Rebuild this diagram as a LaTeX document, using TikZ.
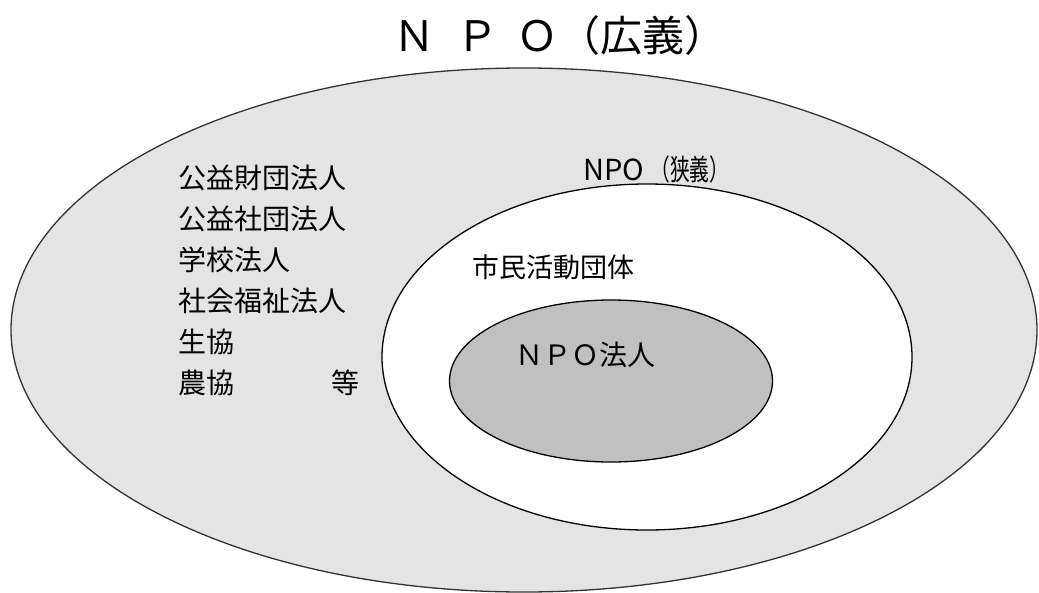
\documentclass[tikz,border=0pt]{standalone}
\usepackage{fontspec}
\setmainfont{Noto Sans CJK JP}
\usetikzlibrary{shapes.geometric}
\definecolor{widegray}{HTML}{E4E4E4}
\definecolor{coregray}{HTML}{C0C0C0}
\tikzset{
	x=1pt, y=-1pt, % one unit per pixel, y runs downwards
	ring/.style={ellipse, draw, line width=1.3pt, inner sep=0pt}, % the nested sets
	tag/.style={font=\fontsize{28}{28}\selectfont, inner sep=0pt}, % texts inside the sets
}
\begin{document}
\begin{tikzpicture}
	\useasboundingbox (0,0) rectangle (1039,592);

	\node[tag, font=\fontsize{42}{42}\selectfont] (title) at (560,36) {Ｎ\hspace{0.5em}Ｐ\hspace{0.45em}Ｏ（広義）};

	\node[ring, draw=black!80, fill=widegray, minimum width=1026, minimum height=524] (wide) at (524,330) {};
	\node[ring, fill=white, minimum width=530, minimum height=346] (narrow) at (647,357) {};
	\node[ring, fill=coregray, minimum width=323, minimum height=162] (core) at (611,381) {};

	% kinds of NPO in the wide sense
	\foreach \txt [count=\i] in {公益財団法人,公益社団法人,学校法人,社会福祉法人,生協,農協}
		\node[tag, anchor=west] (kind\i) at (178,178+41*\i-41) {\txt};
	\node[tag] (etc) at (345,383) {等};

	\node[tag, font=\fontsize{29}{29}\selectfont, anchor=west] (narrowname) at (583,169) {NPO \scalebox{0.68}[1]{（狭義）}};
	\node[tag, font=\fontsize{27}{27}\selectfont, anchor=west] (civic) at (472,267) {市民活動団体};
	\node[tag, anchor=west] (corpname) at (515,355) {ＮＰＯ法人};
\end{tikzpicture}
\end{document}
